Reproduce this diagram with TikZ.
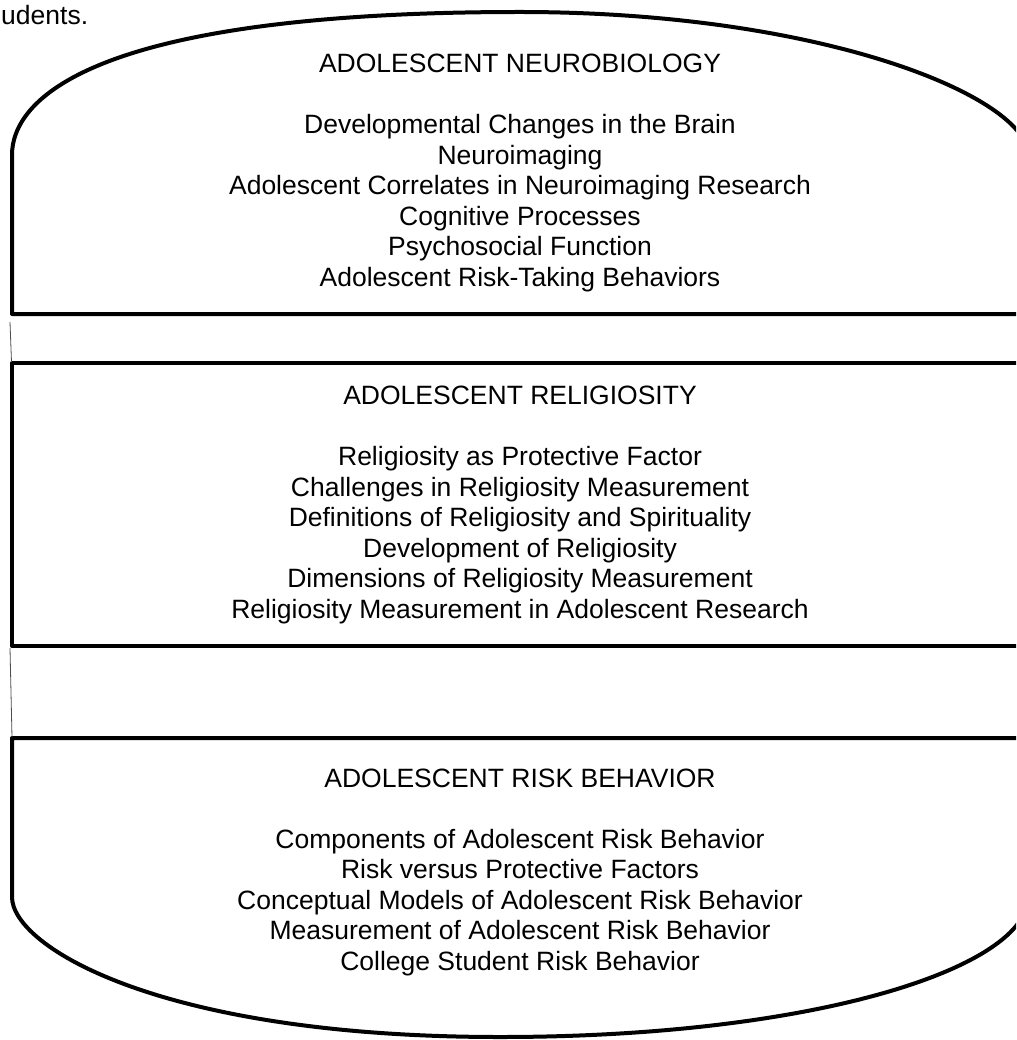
\documentclass[tikz,border=0pt]{standalone}
\usepackage{fontspec}
\setmainfont{Liberation Sans}
\begin{document}
\begin{tikzpicture}[x=1pt,y=-1pt,
  outline/.style={line width=4pt, line join=round},
  link/.style={line width=0.8pt, draw=black!70},
  label/.style={font=\fontsize{26.5}{30.5}\selectfont, inner sep=0pt, anchor=base},
  heading/.style={label},
  topic/.style={label}]
\useasboundingbox (0,0) rectangle (1016,1040);
\clip (0,0) rectangle (1016,1040);

% corner points of the three panels
\coordinate (nb-nw) at (12,155);
\coordinate (nb-sw) at (12,314);
\coordinate (nb-se) at (1028,314);
\coordinate (nb-ne) at (1028,155);
\coordinate (nb-top) at (520,12);
\coordinate (rel-nw) at (12,363);
\coordinate (rel-se) at (1028,646);
\coordinate (rb-nw) at (12,738);
\coordinate (rb-ne) at (1028,738);
\coordinate (rb-se) at (1028,897);
\coordinate (rb-sw) at (12,897);
\coordinate (rb-bottom) at (500,1037);

% top panel: domed roof
\draw[outline] (nb-sw) -- (nb-nw)
  .. controls (12,100.7) and (88,12) .. (nb-top)
  .. controls (825,12) and (1028,97.8) .. (nb-ne)
  -- (nb-se) -- cycle;

% middle panel
\draw[outline] (rel-nw) rectangle (rel-se);

% bottom panel: rounded base
\draw[outline] (rb-sw) -- (rb-nw) -- (rb-ne) -- (rb-se)
  .. controls (1028,967) and (817,1037) .. (rb-bottom)
  .. controls (158,1037) and (12,946) .. cycle;

% thin links between the panels
\coordinate (l1a) at (10,322);
\coordinate (l1b) at (11.5,362);
\coordinate (l2a) at (10,648);
\coordinate (l2b) at (12,737);
\draw[link] (l1a) -- (l1b);
\draw[link] (l2a) -- (l2b);

% caption fragment
\node[label, anchor=base west] (cap) at (1,25) {udents.};

% top panel text
\node[heading] (nb-title) at (520,73) {ADOLESCENT NEUROBIOLOGY};
\foreach \t [count=\i] in {Developmental Changes in the Brain,
    Neuroimaging,
    Adolescent Correlates in Neuroimaging Research,
    Cognitive Processes,
    Psychosocial Function,
    Adolescent Risk-Taking Behaviors}
  \node[topic] (nb-\i) at ({520},{134+30.5*(\i-1)}) {\t};

% middle panel text
\node[heading] (rel-title) at (520,404.5) {ADOLESCENT RELIGIOSITY};
\foreach \t [count=\i] in {Religiosity as Protective Factor,
    Challenges in Religiosity Measurement,
    Definitions of Religiosity and Spirituality,
    Development of Religiosity,
    Dimensions of Religiosity Measurement,
    Religiosity Measurement in Adolescent Research}
  \node[topic] (rel-\i) at ({520},{465.5+30.5*(\i-1)}) {\t};

% bottom panel text
\node[heading] (rb-title) at (520,787) {ADOLESCENT RISK BEHAVIOR};
\foreach \t [count=\i] in {Components of Adolescent Risk Behavior,
    Risk versus Protective Factors,
    Conceptual Models of Adolescent Risk Behavior,
    Measurement of Adolescent Risk Behavior,
    College Student Risk Behavior}
  \node[topic] (rb-\i) at ({520},{848+30.5*(\i-1)}) {\t};
\end{tikzpicture}
\end{document}
